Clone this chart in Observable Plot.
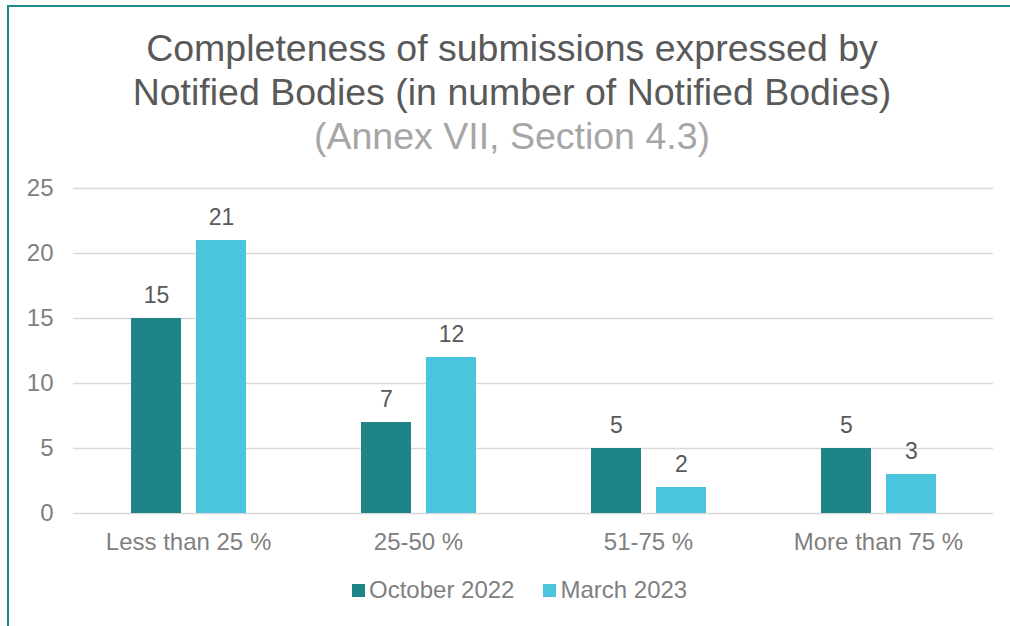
<!DOCTYPE html>
<html><head><meta charset="utf-8">
<script src="https://cdn.jsdelivr.net/npm/d3@7"></script>
<script src="https://cdn.jsdelivr.net/npm/@observablehq/plot@0.6"></script>
<style>
body{margin:0;background:#fff;font-family:"Liberation Sans",Arial,sans-serif;width:1010px;height:626px;overflow:hidden;position:relative}
#frame{position:absolute;left:7px;top:5px;width:1003px;height:621px;border-top:2px solid #1f8a8c;border-left:2px solid #1f8a8c;box-sizing:border-box}
#title{position:absolute;top:26px;left:4px;width:1016px;text-align:center;font-size:37.5px;line-height:44px;color:#595959}
#title .sub{color:#a6a6a6}
#chart{position:absolute;left:0;top:170px}
#legend{position:absolute;top:578px;left:352px;font-size:24px;line-height:24px;color:#808080;display:flex;align-items:center;white-space:nowrap}
#legend .sw{display:inline-block;width:13px;height:13px;margin-right:4px}
#legend .item{display:flex;align-items:center;margin-right:29px}
</style></head>
<body>
<div id="frame"></div>
<div id="title">Completeness of submissions expressed by<br>Notified Bodies (in number of Notified Bodies)<br><span class="sub">(Annex VII, Section 4.3)</span></div>
<div id="chart"></div>
<div id="legend"></div>
<script>
const categories = ["Less than 25 %", "25-50 %", "51-75 %", "More than 75 %"];
const series = ["October 2022", "March 2023"];
const october2022 = [15, 7, 5, 5];
const march2023 = [21, 12, 2, 3];
const yTicks = [0, 5, 10, 15, 20, 25];
const colors = ["#1f8488", "#4bc5de"];

const data = [];
categories.forEach((c, i) => {
  data.push({category: c, series: series[0], value: october2022[i]});
  data.push({category: c, series: series[1], value: march2023[i]});
});

const chart = Plot.plot({
  width: 1010,
  height: 388,
  marginLeft: 72,
  marginRight: 17,
  marginTop: 18,
  marginBottom: 45,
  style: {fontFamily: "'Liberation Sans', Arial, sans-serif", fontSize: "24px", color: "#808080", background: "transparent"},
  fx: {domain: categories, padding: 0, label: null, axis: "bottom", tickSize: 0, tickPadding: 19},
  x: {domain: series, paddingInner: 0.2308, paddingOuter: 0.8846, axis: null},
  y: {domain: [0, 25], ticks: yTicks, label: null, tickSize: 0, tickPadding: 20},
  color: {domain: series, range: colors},
  marks: [
    Plot.ruleY(yTicks, {stroke: "#d9d9d9", strokeWidth: 1.5}),
    Plot.barY(data, {fx: "category", x: "series", y: "value", fill: "series"}),
    Plot.text(data, {fx: "category", x: "series", y: "value", text: d => String(d.value), lineAnchor: "bottom", dy: -16, fill: "#595959", fontSize: 23})
  ]
});
document.getElementById("chart").appendChild(chart);

const legend = document.getElementById("legend");
series.forEach((s, i) => {
  const item = document.createElement("span");
  item.className = "item";
  const sw = document.createElement("span");
  sw.className = "sw";
  sw.style.background = colors[i];
  item.appendChild(sw);
  item.appendChild(document.createTextNode(s));
  legend.appendChild(item);
});
</script>
</body></html>
